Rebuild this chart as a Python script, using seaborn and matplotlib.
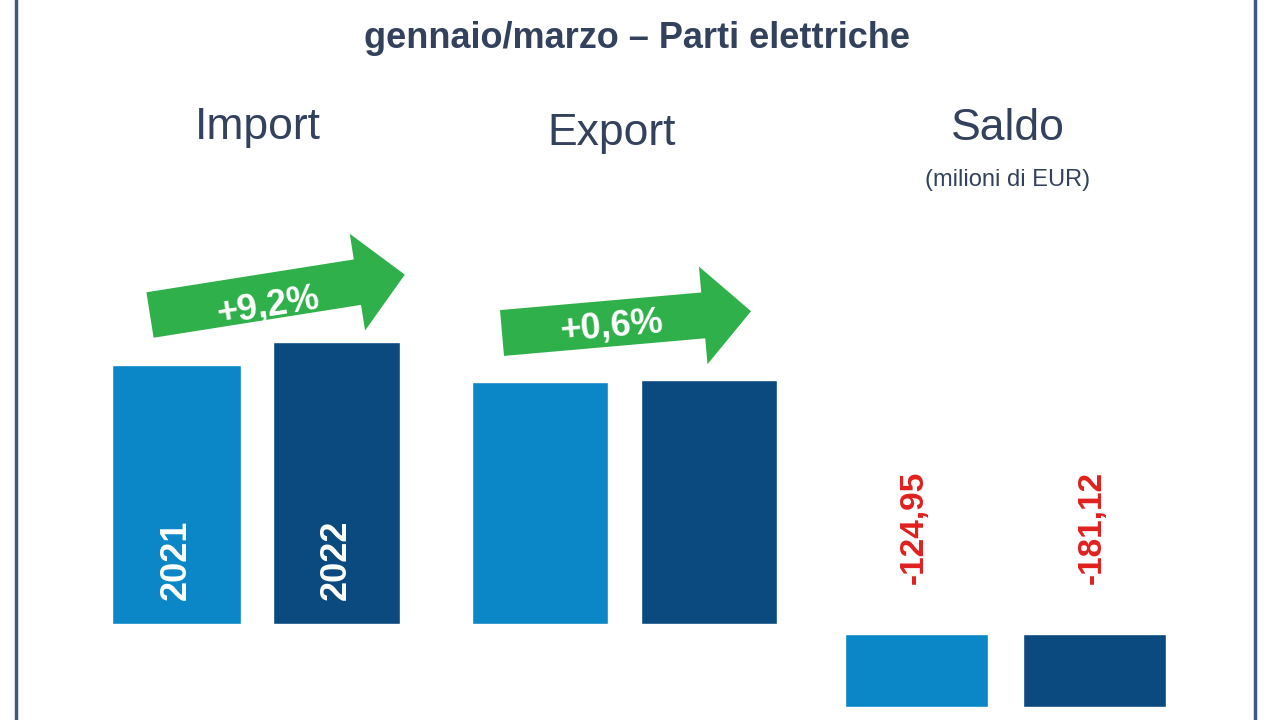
import matplotlib
matplotlib.use('Agg')
import matplotlib.pyplot as plt
import seaborn as sns
from matplotlib.patches import FancyArrow
import matplotlib.transforms as mtransforms

sns.set_theme(style='white', font='Liberation Sans')

# data (bar heights in chart units)
groups = ['Import', 'Export', 'Saldo']
years = ['2021', '2022']
import_vals = [259, 282]
export_vals = [242, 244]
saldo_vals = [-124.95, -181.12]
saldo_bar_depth = [-73, -73]   # drawn equal in the original
changes = ['+9,2%', '+0,6%']

light = '#0b86c6'
dark = '#0b4a7f'
text_col = '#33415c'

fig = plt.figure(figsize=(12.8, 7.2), dpi=100)
ax = fig.add_axes([0, 0, 1, 1])
ax.set_xlim(0, 1280)
ax.set_ylim(-96, 624)
ax.axis('off')

centers = [176, 336, 540, 709, 916, 1094]
widths = [129, 127, 136, 136, 143, 143]
heights = import_vals + export_vals + saldo_bar_depth
bottoms = [0, 0, 0, 0, -10, -10]
colors = [light, dark] * 3
ax.bar(centers, heights, width=widths, bottom=bottoms, color=colors, align='center')

# year labels inside import bars
for c, y in zip(centers[:2], years):
    ax.text(c, 64, y, rotation=90, color='white', fontsize=26,
            fontweight='bold', ha='center', va='center')

# saldo values
for c, v in zip(centers[4:], saldo_vals):
    ax.text(c - 2, 97, f'{v:.2f}'.replace('.', ','), rotation=90,
            color='#e0201e', fontsize=24, fontweight='bold',
            ha='center', va='center')

# titles
ax.text(637, 586, 'gennaio/marzo – Parti elettriche', fontsize=26,
        fontweight='bold', color=text_col, ha='center', va='center')
ax.text(258, 497, 'Import', fontsize=32, color=text_col, ha='center', va='center')
ax.text(612, 491, 'Export', fontsize=32, color=text_col, ha='center', va='center')
ax.text(1008, 496, 'Saldo', fontsize=32, color=text_col, ha='center', va='center')
ax.text(1008, 444, '(milioni di EUR)', fontsize=17, color=text_col,
        ha='center', va='center')

# green arrows
green = '#2fb04a'
arrows = [((150, 309), 258, 9, (268, 318)), ((502, 291), 250, 5, (612, 297))]
for (start, length, ang, tpos), lab in zip(arrows, changes):
    tr = mtransforms.Affine2D().rotate_deg_around(start[0], start[1], ang) + ax.transData
    arr = FancyArrow(start[0], start[1], length, 0, width=46, head_width=98,
                     head_length=48, length_includes_head=True,
                     color=green, transform=tr, linewidth=0)
    ax.add_patch(arr)
    ax.text(tpos[0], tpos[1], lab, rotation=ang, color='white', fontsize=26,
            fontweight='bold', ha='center', va='center')

# frame lines
for x in (16, 1255):
    ax.plot([x, x], [-96, 624], color='#3d5a80', lw=2.5)

fig.savefig('out.png', dpi=100)
